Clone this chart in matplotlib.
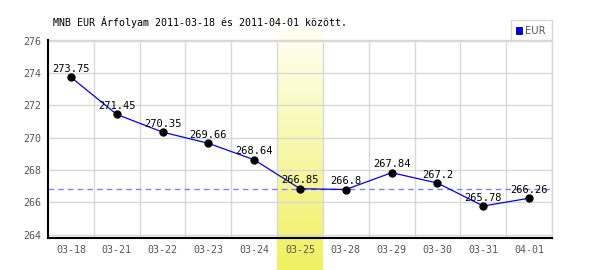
import numpy as np
import matplotlib
matplotlib.use("Agg")
import matplotlib.pyplot as plt
from matplotlib.patches import Rectangle

dates = ["03-18", "03-21", "03-22", "03-23", "03-24", "03-25",
         "03-28", "03-29", "03-30", "03-31", "04-01"]
rates = [273.75, 271.45, 270.35, 269.66, 268.64, 266.85,
         266.8, 267.84, 267.2, 265.78, 266.26]
labels = ["273.75", "271.45", "270.35", "269.66", "268.64", "266.85",
          "266.8", "267.84", "267.2", "265.78", "266.26"]
yticks = [264, 266, 268, 270, 272, 274, 276]
highlight = 5          # index of 03-25
ref_value = 266.85     # dashed reference line
title = "MNB EUR Árfolyam 2011-03-18 és 2011-04-01 között."

mono = "DejaVu Sans Mono"

fig = plt.figure(figsize=(6, 2.7), dpi=100)
ax = fig.add_axes([48/600, 32/270, 504/600, 198/270])
ax.set_facecolor("none")

x = np.arange(len(dates))
ymin, ymax = 263.8, 276.05

# highlighted day: vertical yellow gradient, running past the axes
grad = np.linspace(0, 1, 256).reshape(-1, 1)
cmap = matplotlib.colors.LinearSegmentedColormap.from_list("y", ["#fffff4", "#f0f060"])
ppu = 198 / (ymax - ymin)
ax.imshow(grad, cmap=cmap, aspect="auto", origin="upper",
          extent=[highlight - 0.5, highlight + 0.5, ymin - 32/ppu, ymax + 11/ppu],
          clip_on=False, zorder=0)
ax.set_xlim(-0.5, len(dates) - 0.5)
ax.set_ylim(ymin, ymax)

# grid
for yv in yticks:
    ax.axhline(yv, color="#d8d8d8", lw=1, zorder=1)
for xv in np.arange(0.5, len(dates), 1.0):
    ax.axvline(xv, color="#d8d8d8", lw=1, zorder=1)

ax.axhline(ref_value, color="#8080ff", lw=1, ls=(0, (4, 3)), zorder=2)

ax.plot(x, rates, color="#0000ff", lw=0.9, zorder=3)
ax.plot(x, rates, "o", color="black", markersize=5, zorder=4)
for xi, yi, lab in zip(x, rates, labels):
    ax.annotate(lab, (xi, yi), xytext=(0, 2.5), textcoords="offset points",
                ha="center", va="bottom", fontsize=7.5, family=mono,
                color="black", zorder=5)

ax.set_xticks(x)
ax.set_xticklabels(dates, family=mono, fontsize=7.2, color="#555555")
ax.set_yticks(yticks)
ax.set_yticklabels([str(v) for v in yticks], family=mono, fontsize=7.2, color="#555555")
ax.tick_params(length=0, pad=5)

for side in ["top", "right"]:
    ax.spines[side].set_color("#d8d8d8")
    ax.spines[side].set_linewidth(1)
for side in ["left", "bottom"]:
    ax.spines[side].set_color("black")
    ax.spines[side].set_linewidth(1.5)
    ax.spines[side].set_zorder(6)

fig.text(53/600, 1 - 22/270, title, family=mono, fontsize=7.2,
         ha="left", va="center", color="black")

# legend box
fig.patches.append(Rectangle((511/600, 1 - 40/270), 41/600, 20/270,
                             transform=fig.transFigure, facecolor="white",
                             edgecolor="#d8d8d8", lw=1))
fig.patches.append(Rectangle((516/600, 1 - 33.5/270), 6/600, 6/270,
                             transform=fig.transFigure, facecolor="#0000ff",
                             edgecolor="#000060", lw=0.6))
fig.text(525/600, 1 - 30.5/270, "EUR", fontsize=7.2, color="#555555",
         ha="left", va="center")

fig.savefig("out.png", dpi=100)
